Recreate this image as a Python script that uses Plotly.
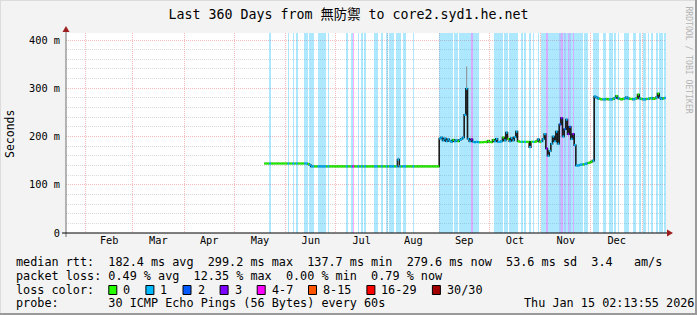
import plotly.graph_objects as go
import pandas as pd

# ---------------- data ----------------
first_day = "2025-05-19"          # first day with data
range_start = "2025-01-20 02:13:55"
range_end = "2026-01-15 02:13:55"

# daily median rtt in ms
median_ms = [
    144, 144, 144, 144, 144, 144, 144, 144, 144, 144,
    144, 144, 144, 144, 144, 144, 144, 144, 144, 144,
    144, 144, 144, 144, 144, 144, 143, 141, 138, 138,
    138, 138, 138, 138, 138, 138, 138, 138, 138, 138,
    138, 138, 138, 138, 138, 138, 138, 138, 138, 138,
    138, 138, 138, 138, 138, 138, 138, 138, 138, 138,
    138, 138, 138, 138, 138, 138, 138, 138, 138, 138,
    138, 138, 138, 138, 138, 138, 138, 138, 138, 138,
    152, 138, 138, 138, 138, 138, 138, 138, 138, 138,
    138, 138, 138, 138, 138, 138, 138, 138, 138, 138,
    138, 138, 138, 138, 138, 196, 198, 192, 196, 190,
    194, 191, 189, 193, 190, 192, 190, 193, 195, 198,
    245, 299, 195, 190, 194, 189, 188, 189, 188, 188,
    188, 188, 189, 188, 191, 189, 188, 193, 190, 195,
    189, 189, 190, 198, 192, 208, 195, 190, 197, 192,
    199, 210, 190, 189, 189, 189, 189, 189, 189, 178,
    189, 189, 189, 190, 194, 189, 190, 195, 205, 175,
    160, 170, 185, 200, 190, 210, 185, 225, 238, 200,
    215, 235, 205, 220, 195, 205, 182, 140, 140, 141,
    142, 142, 143, 144, 145, 146, 148, 150, 283, 281,
    279, 278, 277, 277, 277, 278, 277, 277, 277, 278,
    280, 284, 279, 278, 277, 278, 279, 281, 279, 278,
    278, 277, 278, 279, 287, 279, 278, 277, 277, 278,
    278, 279, 280, 278, 279, 281, 289, 280, 278, 279,
    280,
]

# daily loss class (index into loss_labels)
loss_class = [
    0, 0, 0, 1, 0, 0, 0, 0, 0, 0,
    0, 0, 0, 0, 1, 0, 0, 1, 0, 1,
    0, 0, 0, 0, 1, 1, 0, 1, 1, 1,
    0, 0, 1, 1, 1, 1, 1, 0, 1, 0,
    0, 0, 0, 0, 0, 0, 0, 0, 0, 1,
    0, 0, 1, 4, 0, 0, 1, 0, 1, 0,
    1, 0, 0, 0, 0, 0, 1, 1, 0, 0,
    1, 0, 0, 1, 0, 1, 1, 1, 0, 1,
    1, 1, 0, 1, 1, 0, 0, 0, 0, 1,
    0, 0, 0, 0, 0, 0, 0, 0, 0, 0,
    0, 0, 0, 0, 0, 1, 1, 1, 1, 1,
    1, 1, 1, 0, 1, 1, 0, 1, 1, 1,
    1, 1, 1, 1, 3, 1, 1, 1, 1, 0,
    0, 0, 0, 0, 0, 0, 0, 0, 1, 1,
    1, 1, 1, 0, 1, 1, 0, 1, 1, 1,
    1, 1, 0, 0, 1, 0, 1, 0, 0, 1,
    0, 1, 0, 0, 1, 0, 1, 1, 1, 3,
    1, 1, 1, 1, 1, 1, 1, 2, 3, 1,
    2, 1, 3, 2, 1, 3, 1, 1, 1, 1,
    1, 0, 1, 1, 0, 0, 0, 1, 1, 1,
    1, 0, 0, 1, 1, 0, 0, 1, 1, 0,
    1, 0, 1, 0, 0, 0, 1, 1, 1, 0,
    0, 1, 1, 0, 0, 1, 0, 1, 1, 0,
    1, 0, 1, 0, 0, 1, 0, 1, 1, 0,
    1,
]

# extra smoke (ping spread) spans: day offset, low, high (ms)
smoke_day = [121, 80]
smoke_low = [299, 138]
smoke_high = [345, 156]

loss_labels = ["0", "1", "2", "3", "4-7", "8-15", "16-29", "30/30"]
loss_colors = ["#26ff00", "#00b8ff", "#0059ff", "#7e00ff",
               "#ff00ff", "#ff5500", "#ff0000", "#a10000"]

y_tick_vals = [0, 100, 200, 300, 400]
y_tick_text = ["0", "100 m", "200 m", "300 m", "400 m"]
y_top = 414.5

title_text = "Last 360 Days from 無防禦 to core2.syd1.he.net"
stat_lines = [
    "median rtt:  182.4 ms avg  299.2 ms max  137.7 ms min  279.6 ms now  53.6 ms sd  3.4   am/s",
    "packet loss: 0.49 % avg  12.35 % max  0.00 % min  0.79 % now",
    "loss color:",
    "probe:       30 ICMP Echo Pings (56 Bytes) every 60s",
]
stamp_text = "Thu Jan 15 02:13:55 2026"

# ---------------- layout helpers ----------------
W, H = 697, 315
PL, PR, PT, PB = 66, 666, 33, 233
MONO = "DejaVu Sans Mono, Noto Sans CJK SC, monospace"
CW = 7.1  # legend char width


def px_x(px):
    return (px - PL) / (PR - PL)


def px_y(py):
    return (PB - py) / (PB - PT)


def nb(s):
    return s.replace(" ", "\u00a0")


def rgba(hexcol, a):
    h = hexcol.lstrip("#")
    return "rgba(%d,%d,%d,%.2f)" % (int(h[0:2], 16), int(h[2:4], 16), int(h[4:6], 16), a)


days = pd.date_range(first_day, periods=len(median_ms), freq="D")
one_day = pd.Timedelta(days=1)
half_day = pd.Timedelta(hours=12)

fig = go.Figure()

# loss background stripes
bx, bc = [], []
for d, c in zip(days, loss_class):
    if c > 0:
        bx.append(d + half_day)
        bc.append(rgba(loss_colors[c], 0.32))
fig.add_trace(go.Bar(x=bx, y=[y_top] * len(bx), width=86400000, marker=dict(color=bc, line=dict(width=0)),
                     hoverinfo="skip"))

# dark smoke / connecting line
fig.add_trace(go.Scatter(x=list(days) + [days[-1] + one_day], y=median_ms + [median_ms[-1]],
                         mode="lines", line=dict(color="#1a1a1a", width=1.6, shape="hv"), hoverinfo="skip"))

# extra smoke spans
sx, sy = [], []
for i, lo, hi in zip(smoke_day, smoke_low, smoke_high):
    sx += [days[i] + half_day, days[i] + half_day, None]
    sy += [lo, hi, None]
fig.add_trace(go.Scatter(x=sx, y=sy, mode="lines", line=dict(color="#8a8a8a", width=1), hoverinfo="skip"))

# median coloured by loss
for ci, col in enumerate(loss_colors):
    xs, ys = [], []
    for d, v, c in zip(days, median_ms, loss_class):
        if c == ci:
            xs += [d, d + one_day, None]
            ys += [v, v, None]
    if xs:
        fig.add_trace(go.Scatter(x=xs, y=ys, mode="lines", line=dict(color=col, width=2.2),
                                 hoverinfo="skip"))

MGRID = "#f5bcbc"
GRID = "#dadada"

fig.update_layout(
    width=W, height=H,
    margin=dict(l=PL, r=W - PR, t=PT, b=H - PB),
    paper_bgcolor="#f3f3f3", plot_bgcolor="#ffffff",
    showlegend=False, bargap=0,
    title=dict(text=title_text, x=0.5, xanchor="center", y=1 - 14 / H, yanchor="middle",
               font=dict(family=MONO, size=13.3, color="#000")),
    xaxis=dict(type="date", range=[range_start, range_end], dtick="M1", tick0="2025-02-01",
               ticklabelmode="period", tickformat="%b", showgrid=True, gridcolor=MGRID,
               griddash="1px,1px", gridwidth=1, ticks="", showline=False, zeroline=False,
               tickfont=dict(family=MONO, size=10.3, color="#000")),
    yaxis=dict(range=[0, y_top], tickmode="array", tickvals=y_tick_vals, ticktext=y_tick_text,
               showgrid=True, gridcolor=MGRID, griddash="1px,1px", gridwidth=1, zeroline=False,
               ticks="", showline=False, ticklabelstandoff=5,
               tickfont=dict(family=MONO, size=10.3, color="#000"),
               minor=dict(tickmode="linear", tick0=0, dtick=20, showgrid=True, gridcolor=GRID,
                          griddash="1px,1px", gridwidth=1)),
)

shapes = []
# frame
shapes.append(dict(type="line", xref="paper", yref="paper", x0=px_x(0), x1=px_x(W), y0=px_y(0.5), y1=px_y(0.5),
                   line=dict(color="#dcdcdc", width=1)))
shapes.append(dict(type="line", xref="paper", yref="paper", x0=px_x(0.5), x1=px_x(0.5), y0=px_y(0), y1=px_y(H),
                   line=dict(color="#dcdcdc", width=1)))
shapes.append(dict(type="line", xref="paper", yref="paper", x0=px_x(0), x1=px_x(W), y0=px_y(H - 1), y1=px_y(H - 1),
                   line=dict(color="#9a9a9a", width=2)))
shapes.append(dict(type="line", xref="paper", yref="paper", x0=px_x(W - 1), x1=px_x(W - 1), y0=px_y(0), y1=px_y(H),
                   line=dict(color="#9a9a9a", width=2)))
# axes
shapes.append(dict(type="line", xref="paper", yref="paper", x0=px_x(PL), x1=px_x(PL), y0=px_y(PB + 4), y1=px_y(30),
                   line=dict(color="#6e6e6e", width=1)))
shapes.append(dict(type="line", xref="paper", yref="paper", x0=px_x(PL - 4), x1=px_x(PR + 3), y0=0, y1=0,
                   line=dict(color="#000000", width=1)))
ARROW = "#9e1f1f"
shapes.append(dict(type="path", xref="paper", yref="paper",
                   path="M %f %f L %f %f L %f %f Z" % (px_x(PR + 1), px_y(PB - 3.5), px_x(PR + 1), px_y(PB + 3.5),
                                                       px_x(PR + 7), px_y(PB)),
                   fillcolor=ARROW, line=dict(width=0)))
shapes.append(dict(type="path", xref="paper", yref="paper",
                   path="M %f %f L %f %f L %f %f Z" % (px_x(PL - 3.5), px_y(32), px_x(PL + 3.5), px_y(32),
                                                       px_x(PL), px_y(26)),
                   fillcolor=ARROW, line=dict(width=0)))

annotations = []
row_y = [262, 276, 290, 303]
for text, ry in zip(stat_lines, row_y):
    annotations.append(dict(text=nb(text), xref="paper", yref="paper", x=px_x(16), y=px_y(ry),
                            xanchor="left", yanchor="middle", showarrow=False, borderpad=0, borderwidth=0,
                            font=dict(family=MONO, size=11.8, color="#000")))
annotations.append(dict(text=nb(stamp_text), xref="paper", yref="paper", x=px_x(694), y=px_y(row_y[3]),
                        xanchor="right", yanchor="middle", showarrow=False, borderpad=0, borderwidth=0,
                        font=dict(family=MONO, size=11.8, color="#000")))

# loss colour legend
sx0 = 16 + 13 * CW
for lab, col in zip(loss_labels, loss_colors):
    shapes.append(dict(type="rect", xref="paper", yref="paper", x0=px_x(sx0 + 0.5), x1=px_x(sx0 + 8.5),
                       y0=px_y(row_y[2] - 4.5), y1=px_y(row_y[2] + 4.5), fillcolor=col,
                       line=dict(color="#000", width=1)))
    annotations.append(dict(text=nb(lab), xref="paper", yref="paper", x=px_x(sx0 + 15), y=px_y(row_y[2]),
                            xanchor="left", yanchor="middle", showarrow=False, borderpad=0, borderwidth=0,
                            font=dict(family=MONO, size=11.8, color="#000")))
    sx0 += 30 + len(lab) * CW

# unit label
annotations.append(dict(text="Seconds", xref="paper", yref="paper", x=px_x(10), y=px_y(134), textangle=-90,
                        xanchor="center", yanchor="middle", showarrow=False,
                        font=dict(family=MONO, size=11.5, color="#000")))
# watermark
annotations.append(dict(text=nb("RRDTOOL / TOBI OETIKER"), xref="paper", yref="paper", x=px_x(689), y=px_y(4),
                        textangle=90, xanchor="center", yanchor="top", showarrow=False,
                        font=dict(family=MONO, size=8.1, color="#b4b4b4")))

fig.update_layout(shapes=shapes, annotations=annotations)
fig.write_html("out.html")
